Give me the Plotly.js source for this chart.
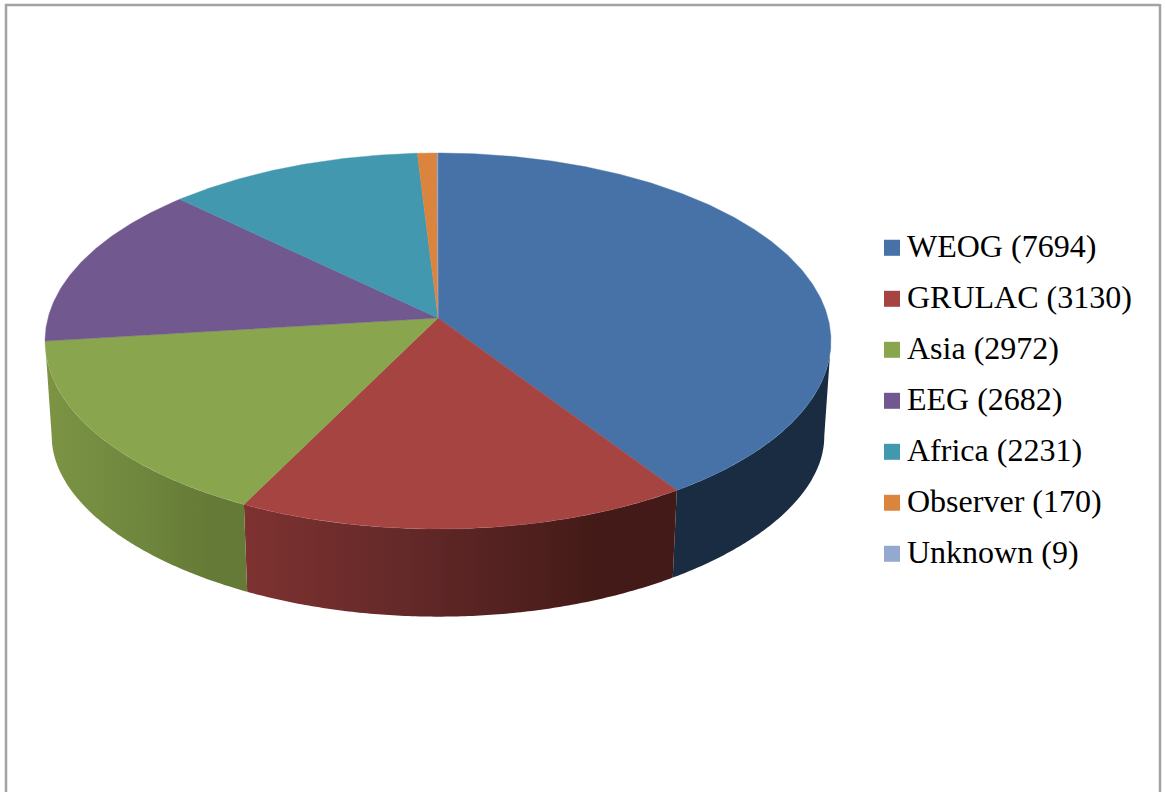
<!DOCTYPE html>
<html>
<head>
<meta charset="utf-8">
<script src="https://cdn.plot.ly/plotly-3.0.1.min.js"></script>
<style>html,body{margin:0;padding:0;background:#fff;overflow:hidden}#chart{width:1165px;height:792px}</style>
</head>
<body>
<div id="chart"></div>
<script>
const categories = ["WEOG", "GRULAC", "Asia", "EEG", "Africa", "Observer", "Unknown"];
const values = [7694, 3130, 2972, 2682, 2231, 170, 9];
const topColors = ["#4672A8", "#A64442", "#89A54E", "#71588F", "#4198AF", "#DB843D", "#93A9CF"];
const wallColorA = ["#1A2C42", "#7E3231", "#7C9443", "#5A4672", "#34798C", "#AF6A31", "#7587A5"];
const wallColorB = ["#1A2C42", "#622828", "#71893F", "#5A4672", "#34798C", "#AF6A31", "#7587A5"];
const wallColorC = ["#1A2C42", "#431A17", "#657A36", "#5A4672", "#34798C", "#AF6A31", "#7587A5"];
const wallStopB = 0.4, wallStopC = 0.82;

// pie geometry: a tilted disc seen in perspective, in page pixels
const cx = 438, cy = 318, a = 390, c = 185.2, k = 0.1223;
const visibleFrom = 97, visibleTo = 263;
const total = values.reduce((s, v) => s + v, 0);
const rad = d => d * Math.PI / 180;
function rim(deg) {
  const u = Math.sin(rad(deg)), v = Math.cos(rad(deg)), w = 1 + k * v;
  return [cx + a * u / w, cy - c * v / w];
}
function lower(p) {
  return [cx + 0.983 * (p[0] - cx), p[1] + 87.3 + 0.00033 * Math.pow(p[1] - 497, 2)];
}
function arc(from, to) {
  const n = Math.max(2, Math.ceil((to - from) * 2)), pts = [];
  for (let i = 0; i <= n; i++) pts.push(rim(from + (to - from) * i / n));
  return pts;
}

const walls = [], tops = [], keys = [];
let start = 0;
categories.forEach((name, i) => {
  const end = start + 360 * values[i] / total;
  const f = Math.max(start, visibleFrom), t = Math.min(end, visibleTo);
  if (t > f) {
    const up = arc(f, t), down = up.map(lower).reverse(), ring = up.concat(down);
    ring.push(up[0]);
    walls.push({
      x: ring.map(p => p[0]), y: ring.map(p => p[1]),
      type: "scatter", mode: "none", fill: "toself", showlegend: false, hoverinfo: "skip",
      fillgradient: {type: "horizontal", colorscale: [
        [0, wallColorA[i]], [wallStopB, wallColorB[i]], [wallStopC, wallColorC[i]], [1, wallColorC[i]]
      ]}
    });
  }
  const top = [[cx, cy]].concat(arc(start, end));
  top.push([cx, cy]);
  tops.push({
    x: top.map(p => p[0]), y: top.map(p => p[1]),
    type: "scatter", mode: "lines", fill: "toself", fillcolor: topColors[i],
    line: {color: topColors[i], width: 0.4}, showlegend: false, name: name, hoverinfo: "name"
  });
  keys.push({
    x: [null], y: [null], type: "scatter", mode: "markers",
    name: name + " (" + values[i] + ")", legendgroup: name,
    marker: {symbol: "square", size: 16, color: topColors[i], line: {width: 0}}
  });
  start = end;
});

const frame = {type: "line", line: {color: "#A3A3A3", width: 2.5}};
const layout = {
  width: 1165, height: 792, margin: {l: 0, r: 0, t: 0, b: 0},
  paper_bgcolor: "#fff", plot_bgcolor: "#fff",
  xaxis: {range: [0, 1165], visible: false, fixedrange: true},
  yaxis: {range: [792, 0], visible: false, fixedrange: true},
  showlegend: true,
  legend: {
    x: 867 / 1165, xanchor: "left", y: 1 - 217.5 / 792, yanchor: "top",
    bgcolor: "rgba(0,0,0,0)", tracegroupgap: 6.4, traceorder: "grouped",
    font: {family: "Liberation Serif", size: 32, color: "#000"}
  },
  shapes: [
    Object.assign({x0: 6, x1: 6, y0: 4, y1: 792}, frame),
    Object.assign({x0: 5, x1: 1160, y0: 5, y1: 5}, frame),
    Object.assign({x0: 1160, x1: 1160, y0: 4, y1: 792}, frame)
  ]
};
Plotly.newPlot("chart", walls.concat(tops, keys), layout, {displayModeBar: false}).then(() => {
  // the reference sets its key squares closer to the labels and level with their baseline
  document.querySelectorAll("#chart .legend .legendpoints").forEach(g => g.setAttribute("transform", "translate(5,3)"));
});
</script>
</body>
</html>
